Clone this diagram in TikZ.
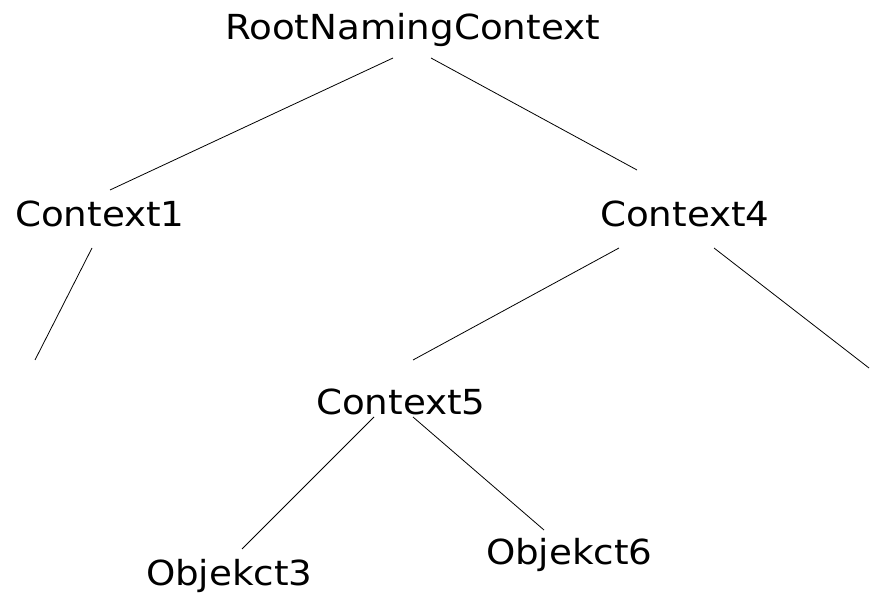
\documentclass[tikz,border=0pt]{standalone}
\usepackage{fontspec}
\setmainfont[FakeStretch=1.08]{DejaVu Sans}
\begin{document}
\begin{tikzpicture}[x=1pt,y=-1pt,
  label/.style={anchor=base west,inner sep=0pt,outer sep=0pt,font=\fontsize{34.5}{40}\selectfont},
  edge/.style={line width=0.8pt,black}]
\useasboundingbox (0,0) rectangle (870,593);
% labels of the naming tree
\node[label] (root) at (225,39.5) {RootNamingContext};
\node[label] (c1) at (15,227) {Context1};
\node[label] (c4) at (600,227) {Context4};
\node[label] (c5) at (316,414.5) {Context5};
\node[label] (o3) at (146,585) {Objekct3};
\node[label] (o6) at (486,564) {Objekct6};
% end points of the branches
\coordinate (rL) at (393,58);
\coordinate (rR) at (431,58);
\coordinate (c1top) at (110,190);
\coordinate (c1bot) at (92,248);
\coordinate (c1leaf) at (35,360);
\coordinate (c4top) at (637,170);
\coordinate (c4L) at (619,248);
\coordinate (c4R) at (714,248);
\coordinate (c4leaf) at (869,368);
\coordinate (c5top) at (413,360);
\coordinate (c5L) at (374,417);
\coordinate (c5R) at (413,417);
\coordinate (o3top) at (242,549);
\coordinate (o6top) at (544,530);
% branches
\draw[edge] (rL) -- (c1top);
\draw[edge] (rR) -- (c4top);
\draw[edge] (c1bot) -- (c1leaf);
\draw[edge] (c4L) -- (c5top);
\draw[edge] (c4R) -- (c4leaf);
\draw[edge] (c5L) -- (o3top);
\draw[edge] (c5R) -- (o6top);
\end{tikzpicture}
\end{document}
